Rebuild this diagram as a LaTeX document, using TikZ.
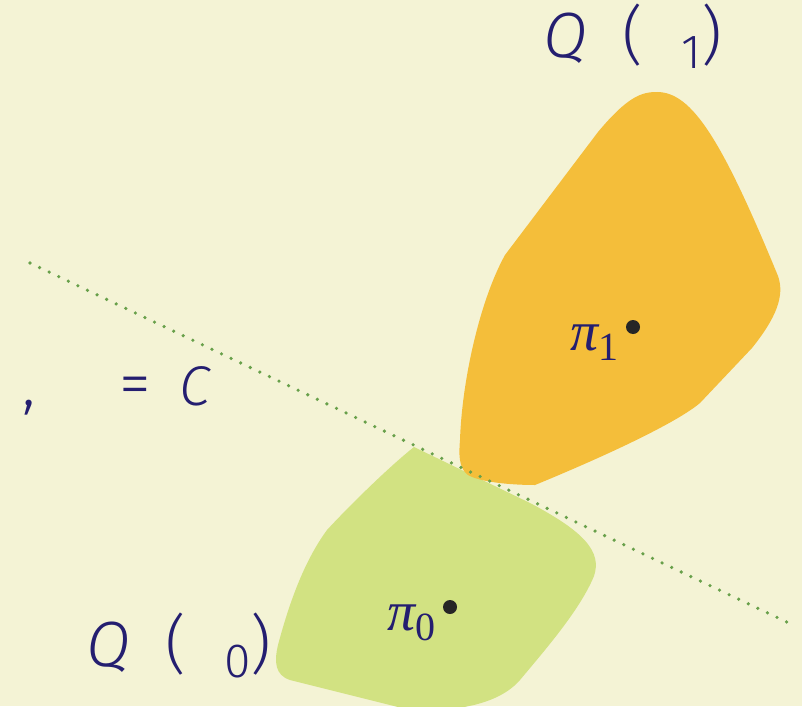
\documentclass[tikz,border=0pt]{standalone}
\usepackage{fontspec}
\setsansfont{Fira Sans}[UprightFont=* Light, ItalicFont=* Light Italic]
\newfontfamily\piFont{Liberation Serif}
\begin{document}
\begin{tikzpicture}[x=0.5pt,y=-0.5pt]
    % --- COLOURS ---
    \definecolor{paperBg}{RGB}{244,243,213}
    \definecolor{setOrange}{RGB}{244,190,58}
    \definecolor{setGreen}{RGB}{210,226,130}
    \definecolor{inkBlue}{RGB}{36,30,112}
    \definecolor{lineGreen}{RGB}{104,160,74}

    % --- STYLES ---
    \tikzset{
        labelNode/.style={inner sep=0pt, text=inkBlue, font=\fontsize{32}{36}\selectfont\sffamily},
        piNode/.style={inner sep=0pt, text=inkBlue, font=\fontsize{28}{32}\selectfont\piFont},
        pointDot/.style={circle, fill=black!85, inner sep=0pt, minimum size=7pt},
        levelLine/.style={draw=lineGreen, line width=1.8pt, line cap=round, dash pattern=on 0pt off 5.3pt}
    }
    % subscript used in the labels
    \newcommand{\lowIdx}[2]{\raisebox{#1}{\fontsize{24}{28}\selectfont #2}}

    % --- BACKGROUND ---
    \fill[paperBg] (0,0) rectangle (802,706);
    \useasboundingbox (0,0) rectangle (802,706);

    % --- SETS ---
    % Lower set
    \fill[setGreen] (414,447) -- (530,503) .. controls (585,532) and (602,552) .. (594,576)
        .. controls (580,610) and (545,650) .. (520,680) .. controls (500,703) and (460,712) .. (410,710)
        -- (290,680) .. controls (275,675) and (274,662) .. (278,645)
        .. controls (290,600) and (305,560) .. (327,530) .. controls (350,505) and (390,466) .. (414,447) -- cycle;
    % Upper set
    \fill[setOrange] (505,255) -- (598,132) .. controls (628,96) and (642,92) .. (657,92)
        .. controls (692,92) and (722,140) .. (778,276) .. controls (785,296) and (776,318) .. (752,348)
        -- (700,403) .. controls (680,420) and (620,450) .. (535,485)
        .. controls (510,485) and (480,482) .. (468,475) .. controls (458,468) and (459,452) .. (460,440)
        .. controls (462,380) and (480,300) .. (505,255) -- cycle;

    % --- LEVEL LINE ---
    \coordinate (lineStart) at (30,263);
    \coordinate (lineEnd) at (793,625);
    \draw[levelLine] (lineStart) -- (lineEnd);

    % --- POINTS ---
    \node[pointDot] (p1) at (633,327) {};
    \node[pointDot] (p0) at (450,607) {};
    \node[piNode, anchor=base east] (pi1) at (619,350) {\itshape π\raisebox{-5pt}{\fontsize{20}{24}\selectfont\upshape 1}};
    \node[piNode, anchor=base east] (pi0) at (436,630) {\itshape π\raisebox{-5pt}{\fontsize{20}{24}\selectfont\upshape 0}};

    % --- LABELS ---
    \node[labelNode, anchor=base west] (q1) at (543,58) {\itshape Q\hspace{18pt}\upshape(\hspace{19pt}\lowIdx{-5.5pt}{1})};
    \node[labelNode, anchor=base west] (q0) at (86,666) {\itshape Q\hspace{18pt}\upshape(\hspace{19pt}\lowIdx{-5.5pt}{0})};
    \node[labelNode, anchor=base west] (level) at (22,405) {,\hspace{42pt}=\hspace{14pt}{\fontsize{28}{32}\selectfont\itshape C}};

\end{tikzpicture}
\end{document}
